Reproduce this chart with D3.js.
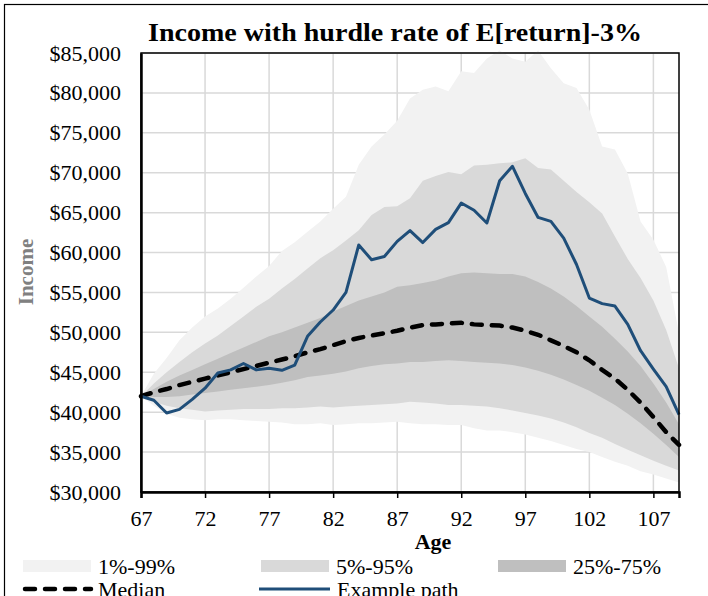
<!DOCTYPE html>
<html>
<head>
<meta charset="utf-8">
<script src="https://cdn.jsdelivr.net/npm/d3@7"></script>
<style>
  body { margin: 0; background: #fff; }
  text { font-family: 'Liberation Serif', 'DejaVu Serif', serif; }
</style>
</head>
<body>
<div id="chart"></div>
<script>
// ages on the x axis (category per year)
const ages = [67, 68, 69, 70, 71, 72, 73, 74, 75, 76, 77, 78, 79, 80, 81, 82, 83, 84, 85, 86, 87, 88,
  89, 90, 91, 92, 93, 94, 95, 96, 97, 98, 99, 100, 101, 102, 103, 104, 105, 106, 107, 108, 109]

// percentile bands of income
const p1 = [42000, 40800, 39800, 39300, 39100, 39000, 39100, 39100, 39000, 38900, 38800, 38700, 38500, 38500,
  38600, 38400, 38500, 38600, 38600, 38700, 38800, 38600, 38500, 38500, 38400, 38400, 38000, 37700, 37700,
  37500, 37200, 36800, 36400, 35900, 35400, 35000, 34400, 33800, 33300, 32600, 32200, 31700, 31200]
const p5 = [42000, 41300, 40800, 40500, 40300, 40100, 40200, 40300, 40400, 40400, 40400, 40500, 40500, 40600,
  40700, 40600, 40700, 40800, 40900, 41000, 41100, 41300, 41200, 41100, 40900, 40900, 40800, 40700, 40500,
  40200, 39900, 39600, 39200, 38700, 38100, 37400, 36800, 36000, 35300, 34600, 33900, 33300, 32700]
const p25 = [42000, 41900, 41900, 42000, 42200, 42400, 42600, 42800, 43000, 43200, 43400, 43700, 44000, 44400,
  44600, 44800, 45100, 45500, 45800, 46000, 46100, 46300, 46300, 46400, 46500, 46400, 46300, 46200, 46100,
  45900, 45600, 45200, 44700, 44100, 43400, 42700, 41800, 40900, 39800, 38600, 37300, 35900, 34400]
const p75 = [42000, 42900, 43800, 44600, 45300, 46000, 46700, 47400, 48100, 48800, 49500, 50000, 50600, 51200,
  51800, 52600, 53300, 54000, 54500, 55000, 55700, 55900, 56200, 56500, 57000, 57400, 57500, 57400, 57300,
  57300, 57000, 56300, 55500, 54500, 53300, 52000, 50700, 49200, 47600, 45800, 43600, 41200, 38500]
const p95 = [42000, 43600, 45000, 46300, 47500, 48600, 49600, 50800, 52000, 53200, 54200, 55500, 56700, 58000,
  59300, 60300, 61500, 62800, 64700, 65700, 65800, 66800, 69000, 69600, 70100, 69800, 70900, 71000, 71200,
  71300, 71800, 70600, 70400, 69000, 67600, 66300, 64900, 62000, 59200, 56800, 54000, 50300, 45500]
const p99 = [42000, 44800, 46800, 49000, 50600, 52000, 53000, 54200, 55600, 57000, 58300, 60200, 61300, 62600,
  63900, 65500, 67000, 71000, 73300, 74800, 76500, 79300, 80400, 80800, 80200, 82700, 82500, 84300, 85300,
  84300, 83900, 85300, 83100, 81200, 80600, 77900, 73300, 72900, 69900, 63900, 61600, 58200, 49900]

const median = [42000, 42500, 42900, 43400, 43800, 44200, 44600, 45000, 45400, 45800, 46200, 46600, 47000, 47500,
  47900, 48400, 48900, 49300, 49600, 49900, 50200, 50600, 50900, 51000, 51100, 51200, 51000, 50900, 50850,
  50600, 50200, 49700, 49000, 48300, 47500, 46500, 45300, 44200, 42800, 41200, 39400, 37500, 35900]
const examplePath = [42000, 41500, 39900, 40350, 41600, 43000, 44900, 45300, 46100, 45300, 45500, 45250, 45900,
  49500, 51300, 52800, 55000, 60950, 59100, 59500, 61400, 62750, 61250, 62900, 63750, 66200, 65300, 63700,
  69000, 70800, 67400, 64400, 63900, 61800, 58500, 54300, 53600, 53300, 51000, 47700, 45400, 43200, 39700]

const xTicks = [67, 72, 77, 82, 87, 92, 97, 102, 107]
const yTicks = [30000, 35000, 40000, 45000, 50000, 55000, 60000, 65000, 70000, 75000, 80000, 85000]

const bands = [
  { name: '1%-99%', lo: p1, hi: p99, color: '#f2f2f2' },
  { name: '5%-95%', lo: p5, hi: p95, color: '#d9d9d9' },
  { name: '25%-75%', lo: p25, hi: p75, color: '#bfbfbf' }
]

const W = 708
const H = 596
const margin = { top: 53, right: 29, bottom: 104, left: 141 }
const width = W - margin.left - margin.right
const height = H - margin.top - margin.bottom

const svg = d3.select('#chart')
  .append('svg')
  .attr('width', W)
  .attr('height', H)

// outer chart frame (only left and top edges are inside the picture)
svg.append('rect')
  .attr('x', 4.5).attr('y', 4.5)
  .attr('width', W + 20).attr('height', H + 20)
  .attr('fill', 'none')
  .attr('stroke', '#000')
  .attr('stroke-width', 1.2)

const g = svg.append('g')
  .attr('transform', 'translate(' + margin.left + ',' + margin.top + ')')

const x = d3.scaleLinear().domain([67, 109]).range([0, width])
const y = d3.scaleLinear().domain([30000, 85000]).range([height, 0])

// grid
g.append('g')
  .selectAll('line')
  .data(yTicks)
  .join('line')
  .attr('x1', 0).attr('x2', width)
  .attr('y1', d => y(d)).attr('y2', d => y(d))
  .attr('stroke', '#d9d9d9')
  .attr('stroke-width', 1.5)
g.append('g')
  .selectAll('line')
  .data(xTicks)
  .join('line')
  .attr('x1', d => x(d)).attr('x2', d => x(d))
  .attr('y1', 0).attr('y2', height)
  .attr('stroke', '#d9d9d9')
  .attr('stroke-width', 1.5)

// bands
bands.forEach(function (b) {
  g.append('path')
    .datum(ages)
    .attr('fill', b.color)
    .attr('d', d3.area()
      .x((d, i) => x(d))
      .y0((d, i) => y(b.lo[i]))
      .y1((d, i) => y(b.hi[i])))
})

// median
g.append('path')
  .datum(ages)
  .attr('fill', 'none')
  .attr('stroke', '#000')
  .attr('stroke-width', 4.5)
  .attr('stroke-dasharray', '10,10')
  .attr('stroke-linecap', 'round')
  .attr('d', d3.line().x(d => x(d)).y((d, i) => y(median[i])))

// example path
g.append('path')
  .datum(ages)
  .attr('fill', 'none')
  .attr('stroke', '#1f4e79')
  .attr('stroke-width', 3)
  .attr('stroke-linejoin', 'round')
  .attr('d', d3.line().x(d => x(d)).y((d, i) => y(examplePath[i])))

// plot border
g.append('rect')
  .attr('width', width).attr('height', height)
  .attr('fill', 'none')
  .attr('stroke', '#000')
  .attr('stroke-width', 1.5)

// x axis
const xAxis = g.append('g')
  .attr('transform', 'translate(0,' + height + ')')
  .call(d3.axisBottom(x).tickValues(xTicks).tickSize(6).tickPadding(12).tickFormat(d3.format('d')))
xAxis.select('.domain').attr('stroke', '#000').attr('stroke-width', 2.5)
xAxis.selectAll('.tick line').attr('stroke', '#000').attr('stroke-width', 1.5)
xAxis.selectAll('text').attr('font-size', 22).attr('fill', '#000')
  .attr('font-family', "'Liberation Serif', serif")

// y axis
const yAxis = g.append('g')
  .call(d3.axisLeft(y).tickValues(yTicks).tickSize(0).tickPadding(20).tickFormat(d3.format('$,')))
yAxis.select('.domain').attr('stroke', '#000').attr('stroke-width', 2.5)
yAxis.selectAll('text').attr('font-size', 22).attr('fill', '#000')
  .attr('font-family', "'Liberation Serif', serif")

// titles
svg.append('text')
  .attr('x', 395).attr('y', 41)
  .attr('text-anchor', 'middle')
  .attr('font-size', 25)
  .attr('font-weight', 'bold')
  .attr('textLength', 494)
  .attr('lengthAdjust', 'spacingAndGlyphs')
  .text('Income with hurdle rate of E[return]-3%')

svg.append('text')
  .attr('x', 433).attr('y', 549)
  .attr('text-anchor', 'middle')
  .attr('font-size', 22)
  .attr('font-weight', 'bold')
  .text('Age')

svg.append('text')
  .attr('transform', 'translate(33,272) rotate(-90)')
  .attr('text-anchor', 'middle')
  .attr('font-size', 21)
  .attr('font-weight', 'bold')
  .attr('fill', '#808080')
  .text('Income')

// legend
const legendBands = svg.append('g')
bands.forEach(function (b, i) {
  const lx = [23, 261, 498][i]
  legendBands.append('rect')
    .attr('x', lx).attr('y', 560)
    .attr('width', 68).attr('height', 12)
    .attr('fill', b.color)
  legendBands.append('text')
    .attr('x', lx + 75).attr('y', 574)
    .attr('font-size', 22)
    .text(b.name)
})

svg.append('line')
  .attr('x1', 25).attr('x2', 91)
  .attr('y1', 589).attr('y2', 589)
  .attr('stroke', '#000')
  .attr('stroke-width', 4.5)
  .attr('stroke-dasharray', '10,10')
  .attr('stroke-linecap', 'round')
svg.append('text')
  .attr('x', 98).attr('y', 597)
  .attr('font-size', 22)
  .text('Median')

svg.append('line')
  .attr('x1', 259).attr('x2', 330)
  .attr('y1', 589).attr('y2', 589)
  .attr('stroke', '#1f4e79')
  .attr('stroke-width', 3)
svg.append('text')
  .attr('x', 337).attr('y', 597)
  .attr('font-size', 22)
  .text('Example path')
</script>
</body>
</html>
